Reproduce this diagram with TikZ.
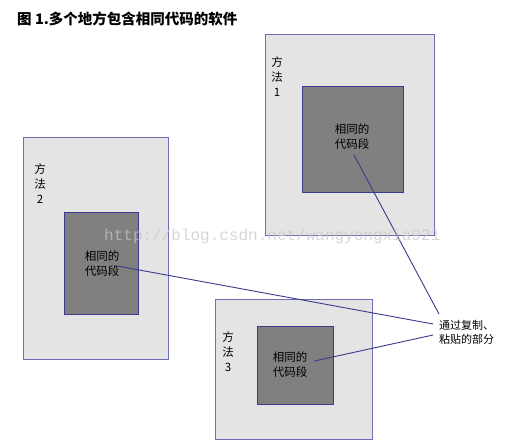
\documentclass[tikz,border=0pt]{standalone}
\usepackage{fontspec}
\newfontfamily\cjk{Noto Sans CJK SC}
\newfontfamily\wmfont{Liberation Mono}
\definecolor{outerfill}{HTML}{E4E4E4}
\definecolor{outerline}{HTML}{6E6EB4}
\definecolor{innerfill}{HTML}{808080}
\definecolor{innerline}{HTML}{3A3A8E}
\definecolor{linkline}{HTML}{3A3A8E}
\tikzset{
  every node/.style={font=\cjk\fontsize{11.5}{15}\selectfont, text=black, inner sep=0pt},
  outerbox/.style={draw=outerline, fill=outerfill, line width=1.2pt, anchor=north west},
  innerbox/.style={draw=innerline, fill=innerfill, line width=1.2pt, anchor=north west},
  codetext/.style={align=center},
  methodtext/.style={align=center},
  link/.style={draw=linkline, line width=0.9pt},
}
\begin{document}
\begin{tikzpicture}[x=1pt,y=-1pt]
\useasboundingbox (0,0) rectangle (513,446);
\fill[white] (0,0) rectangle (513,446);

% title
\node[anchor=west, font=\cjk\bfseries\fontsize{14.5}{16}\selectfont] (title) at (17,19) {图 1.多个地方包含相同代码的软件};

% method 1
\node[outerbox, minimum width=169pt, minimum height=201pt] (m1) at (265,34) {};
\node[innerbox, minimum width=101pt, minimum height=106pt] (s1) at (302,86) {};
\node[methodtext] (t1) at (277,77) {方\\法\\1};
\node[codetext] (c1) at (352,137) {相同的\\代码段};

% method 2
\node[outerbox, minimum width=145pt, minimum height=222pt] (m2) at (23,137) {};
\node[innerbox, minimum width=74pt, minimum height=102pt] (s2) at (64,212) {};
\node[methodtext] (t2) at (40,184) {方\\法\\2};
\node[codetext] (c2) at (102,264) {相同的\\代码段};

% method 3
\node[outerbox, minimum width=157pt, minimum height=140pt] (m3) at (215,299) {};
\node[innerbox, minimum width=76pt, minimum height=78pt] (s3) at (257,326) {};
\node[methodtext] (t3) at (228,352) {方\\法\\3};
\node[codetext] (c3) at (290,365) {相同的\\代码段};

% note
\node[anchor=north west, align=left, font=\cjk\fontsize{11}{14}\selectfont] (note) at (439,320) {通过复制、\\粘贴的部分};

% connectors
\draw[link] ([xshift=2pt,yshift=-5pt]c1.south) -- ([yshift=6pt]note.north west);
\draw[link] ([xshift=-2pt,yshift=-2pt]c2.east) -- ([xshift=-6pt,yshift=-4pt]note.north west);
\draw[link] ([xshift=7pt,yshift=4pt]c3.east) -- ([xshift=-6pt,yshift=-15pt]note.north west);

% watermark
\node[font=\wmfont\fontsize{16}{16}\selectfont, text=gray!45, opacity=0.7, anchor=west] (wm) at (104,236) {http://blog.csdn.net/wangyongxia921};
\end{tikzpicture}
\end{document}
